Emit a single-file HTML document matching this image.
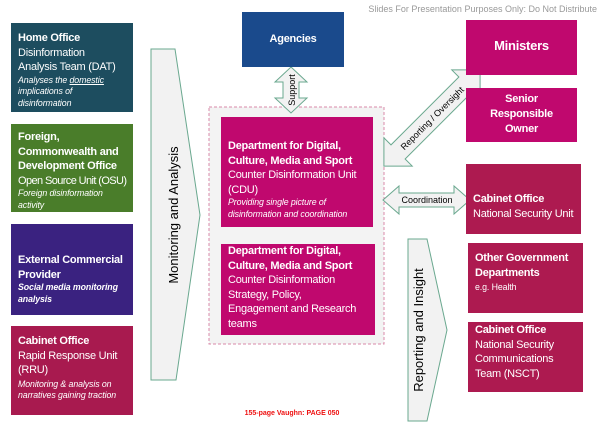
<!DOCTYPE html>
<html><head><meta charset="utf-8"><style>
body{margin:0;width:601px;height:427px;background:#fff;position:relative;overflow:hidden;font-family:"Liberation Sans",Arial,sans-serif;}
.b{position:absolute;color:#fff;box-sizing:border-box;font-size:11px;line-height:14.5px;letter-spacing:-0.25px;white-space:nowrap}
.b b{font-weight:bold}
.i{font-style:italic;font-size:8.8px;line-height:11.5px;display:block;letter-spacing:-0.1px}
svg{position:absolute;left:0;top:0}
</style></head><body>
<svg width="601" height="427">
<rect x="209" y="107" width="175" height="237" fill="#f3f3f3" stroke="#d88aa8" stroke-dasharray="3,2" stroke-width="1"/>
<polygon points="151,49 175,49 200,215 176,380 151,380" fill="#f2f2f2" stroke="#6aa88f" stroke-width="1"/>
<polygon points="408,239 427,239 447,330 427,421 408,421" fill="#f2f2f2" stroke="#6aa88f" stroke-width="1"/>
<polygon points="291,67 307,82 299,82 299,98 307,98 291,113 275,98 283,98 283,82 275,82" fill="#f2f2f2" stroke="#6aa88f"/>
<polygon points="383,200 399,186 399,193 454,193 454,186 470,200 454,214 454,207 399,207 399,214" fill="#f2f2f2" stroke="#6aa88f"/>
<g transform="translate(432,118) rotate(-45)">
<polygon points="-68,0 -48,-20 -48,-10 48,-10 48,-20 68,0 48,20 48,10 -48,10 -48,20" fill="#f2f2f2" stroke="#6aa88f"/>
<text x="0" y="3.5" font-size="9" text-anchor="middle" font-family="Liberation Sans">Reporting / Oversight</text>
</g>
<text transform="translate(295,90) rotate(-90)" font-size="9" text-anchor="middle" font-family="Liberation Sans">Support</text>
<text x="427" y="203" font-size="9" text-anchor="middle" font-family="Liberation Sans">Coordination</text>
<text transform="translate(178,215) rotate(-90)" font-size="13" text-anchor="middle" font-family="Liberation Sans">Monitoring and Analysis</text>
<text transform="translate(423,330) rotate(-90)" font-size="13" text-anchor="middle" font-family="Liberation Sans">Reporting and Insight</text>
<text x="597" y="12" font-size="9" text-anchor="end" fill="#999" font-family="Liberation Sans">Slides For Presentation Purposes Only: Do Not Distribute</text>
<text x="292" y="415" font-size="7" font-weight="bold" text-anchor="middle" fill="#ee1111" font-family="Liberation Sans">155-page Vaughn: PAGE 050</text>
</svg>
<div class="b" style="left:11px;top:23px;width:122px;height:89px;background:#1d4d5f;padding:8px 7px"><b>Home Office</b><br>Disinformation<br>Analysis Team (DAT)<span class="i">Analyses the <u>domestic</u><br>implications of<br>disinformation</span></div>
<div class="b" style="left:11px;top:124px;width:122px;height:88px;background:#4a7d2a;padding:6px 7px"><b>Foreign,<br>Commonwealth and<br>Development Office</b><br><span style="letter-spacing:-0.6px">Open Source Unit (OSU)</span><span class="i">Foreign disinformation<br>activity</span></div>
<div class="b" style="left:11px;top:224px;width:122px;height:91px;background:#3a2280;padding:29px 7px 0"><b>External Commercial<br>Provider</b><span class="i" style="font-weight:bold">Social media monitoring<br>analysis</span></div>
<div class="b" style="left:11px;top:326px;width:122px;height:89px;background:#a81a4f;padding:8px 7px"><b>Cabinet Office</b><br>Rapid Response Unit<br>(RRU)<span class="i" style="margin-top:1px">Monitoring &amp; analysis on<br>narratives gaining traction</span></div>
<div class="b" style="left:242px;top:12px;width:102px;height:55px;background:#1a4a8c;text-align:center;padding-top:20px"><b>Agencies</b></div>
<div class="b" style="left:221px;top:117px;width:152px;height:110px;background:#c0086e;padding:22px 7px 0"><b>Department for Digital,<br>Culture, Media and Sport</b><br>Counter Disinformation Unit<br>(CDU)<span class="i">Providing single picture of<br>disinformation and coordination</span></div>
<div class="b" style="left:221px;top:244px;width:154px;height:91px;background:#c0086e;padding:0 7px"><b>Department for Digital,<br>Culture, Media and Sport</b><br>Counter Disinformation<br>Strategy, Policy,<br>Engagement and Research<br>teams</div>
<div class="b" style="left:466px;top:20px;width:111px;height:55px;background:#c0086e;text-align:center;padding-top:19px;font-size:13px"><b>Ministers</b></div>
<div class="b" style="left:466px;top:88px;width:111px;height:54px;background:#c0086e;text-align:center;padding-top:4px;line-height:15px"><b>Senior<br>Responsible<br>Owner</b></div>
<div class="b" style="left:466px;top:164px;width:115px;height:70px;background:#ad1a50;padding:28px 7px 0"><b>Cabinet Office</b><br>National Security Unit</div>
<div class="b" style="left:468px;top:243px;width:115px;height:70px;background:#ad1a50;padding:8px 7px 0"><b>Other Government<br>Departments</b><span class="i" style="font-style:normal;margin-top:2px">e.g. Health</span></div>
<div class="b" style="left:468px;top:322px;width:115px;height:70px;background:#ad1a50;padding:1px 7px 0"><b>Cabinet Office</b><br>National Security<br>Communications<br>Team (NSCT)</div>
</body></html>
